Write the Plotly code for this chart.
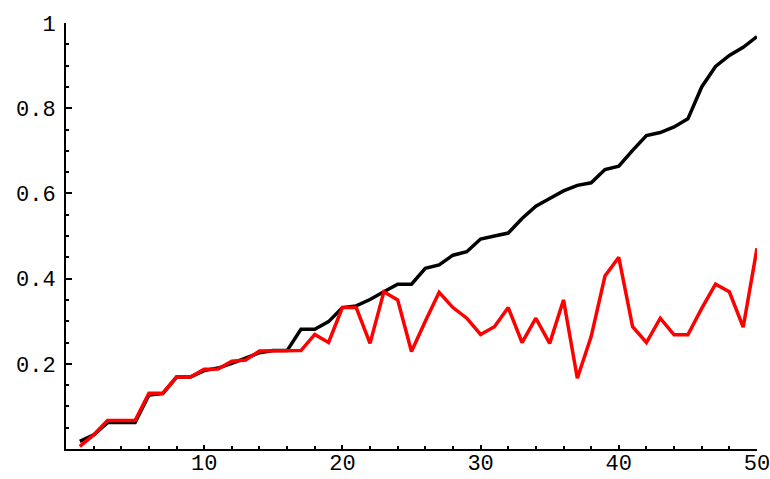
import plotly.graph_objects as go

x = list(range(1, 51))
black_vals = [0.018, 0.033, 0.062, 0.062, 0.062, 0.127, 0.130, 0.169, 0.169, 0.184,
              0.190, 0.201, 0.213, 0.226, 0.231, 0.231, 0.281, 0.281, 0.299, 0.332,
              0.336, 0.351, 0.369, 0.387, 0.387, 0.424, 0.432, 0.455, 0.463, 0.493,
              0.500, 0.507, 0.541, 0.570, 0.588, 0.606, 0.619, 0.625, 0.656, 0.664,
              0.701, 0.736, 0.743, 0.756, 0.775, 0.850, 0.898, 0.924, 0.943, 0.968]
red_vals = [0.006, 0.033, 0.067, 0.067, 0.067, 0.131, 0.131, 0.169, 0.169, 0.187,
            0.188, 0.206, 0.209, 0.230, 0.231, 0.231, 0.231, 0.269, 0.250, 0.332,
            0.332, 0.248, 0.369, 0.350, 0.229, 0.300, 0.368, 0.332, 0.307, 0.269,
            0.287, 0.332, 0.250, 0.307, 0.248, 0.350, 0.166, 0.264, 0.406, 0.450,
            0.287, 0.250, 0.307, 0.268, 0.268, 0.330, 0.387, 0.369, 0.286, 0.471]
x_ticks = [10, 20, 30, 40, 50]
y_ticks = [0.2, 0.4, 0.6, 0.8, 1.0]
y_tick_text = ["0.2", "0.4", "0.6", "0.8", "1"]

fig = go.Figure()
fig.add_trace(go.Scatter(x=x, y=black_vals, mode="lines",
                         line=dict(color="black", width=3.5), showlegend=False))
fig.add_trace(go.Scatter(x=x, y=red_vals, mode="lines",
                         line=dict(color="#ff0000", width=3.5), showlegend=False))

font = dict(family="Liberation Mono, Courier New, monospace", size=22, color="black")
fig.update_layout(
    width=770, height=479,
    margin=dict(l=65.5, r=13.3, t=22.5, b=29.7, autoexpand=False),
    paper_bgcolor="white", plot_bgcolor="white",
    font=font,
    xaxis=dict(range=[0, 50.001], tickmode="array", tickvals=x_ticks,
               ticktext=[str(v) for v in x_ticks], automargin=False,
               ticklabeloverflow="allow", ticklabelstandoff=-7,
               showgrid=False, zeroline=False, showline=True, linecolor="black",
               linewidth=2, ticks="inside", ticklen=4, tickwidth=2, tickcolor="black",
               minor=dict(dtick=2, tick0=0, ticks="inside", ticklen=3, tickwidth=2,
                          tickcolor="black", showgrid=False),
               tickfont=font),
    yaxis=dict(range=[0, 1.0001], tickmode="array", tickvals=y_ticks, ticktext=y_tick_text,
               automargin=False, ticklabeloverflow="allow", ticklabelstandoff=4,
               showgrid=False, zeroline=False, showline=True, linecolor="black",
               linewidth=2, ticks="inside", ticklen=6, tickwidth=2, tickcolor="black",
               minor=dict(dtick=0.05, tick0=0, ticks="inside", ticklen=3, tickwidth=2,
                          tickcolor="black", showgrid=False),
               tickfont=font),
)
fig.write_html("out.html")
